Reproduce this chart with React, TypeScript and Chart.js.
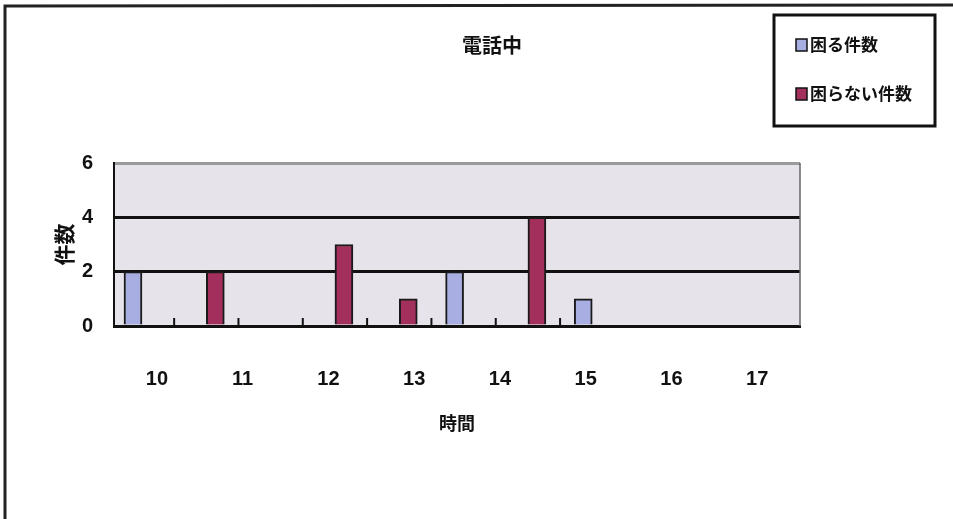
import React, { useEffect, useRef } from "react";
import { Chart, registerables } from "chart.js";

Chart.register(...registerables);

const chartTitle = "電話中";
const xAxisTitle = "時間";
const yAxisTitle = "件数";
const categories = ["10", "11", "12", "13", "14", "15", "16", "17"];
const seriesNames = ["困る件数", "困らない件数"];
const komaruValues = [2, 0, 0, 0, 0, 2, 0, 1];
const komaranaiValues = [0, 2, 0, 3, 1, 0, 4, 0];
const seriesColors = ["#a9aee2", "#a3305c"];
const yMin = 0;
const yMax = 6;
const yStep = 2;

const NUM_FONT = "'Liberation Sans', Arial, sans-serif";
const CJK_FONT = "'Noto Sans CJK JP', 'Noto Sans', sans-serif";

export default function App() {
  const ref = useRef<HTMLCanvasElement | null>(null);

  useEffect(() => {
    if (!ref.current) return;
    const hours = categories.map((c) => Number(c));
    const mk = (vals: number[]) => vals.map((v, i) => ({ x: hours[i], y: v }));

    const decor = {
      id: "decor",
      beforeDraw(chart: any) {
        const { ctx, chartArea: a } = chart;
        ctx.save();
        ctx.fillStyle = "#e6e3ea";
        ctx.fillRect(a.left, a.top, a.right - a.left, a.bottom - a.top);
        ctx.restore();
      },
      afterDatasetsDraw(chart: any) {
        const { ctx, chartArea: a } = chart;
        const xb = chart.scales.xb;
        ctx.save();
        ctx.strokeStyle = "#666";
        ctx.lineWidth = 1.5;
        ctx.beginPath();
        ctx.moveTo(a.right, a.top);
        ctx.lineTo(a.right, a.bottom);
        ctx.stroke();
        ctx.strokeStyle = "#111";
        ctx.lineWidth = 2;
        for (let i = 0; i < hours.length - 1; i++) {
          const px = xb.getPixelForValue((hours[i] + hours[i + 1]) / 2);
          ctx.beginPath();
          ctx.moveTo(px, a.bottom);
          ctx.lineTo(px, a.bottom - 8);
          ctx.stroke();
        }
        ctx.restore();
      },
      afterDraw(chart: any) {
        const { ctx } = chart;
        ctx.save();
        ctx.strokeStyle = "#222";
        ctx.lineWidth = 3;
        ctx.beginPath();
        ctx.moveTo(5, 519);
        ctx.lineTo(5, 6);
        ctx.lineTo(953, 5);
        ctx.stroke();
        ctx.fillStyle = "#111";
        ctx.font = `bold 20px ${CJK_FONT}`;
        ctx.textAlign = "center";
        ctx.textBaseline = "middle";
        ctx.fillText(chartTitle, 492, 45);
        ctx.lineWidth = 3;
        ctx.strokeStyle = "#111";
        ctx.strokeRect(774, 15, 161, 111);
        ctx.font = `bold 17px ${CJK_FONT}`;
        ctx.textAlign = "left";
        const rows = [45, 94];
        chart.data.datasets.forEach((ds: any, i: number) => {
          const y = rows[i];
          ctx.fillStyle = ds.backgroundColor;
          ctx.fillRect(796, y - 6, 11, 12);
          ctx.lineWidth = 1.5;
          ctx.strokeStyle = "#111";
          ctx.strokeRect(796, y - 6, 11, 12);
          ctx.fillStyle = "#111";
          ctx.fillText(ds.label, 810, y);
        });
        ctx.restore();
      },
    };

    const chart = new Chart(ref.current, {
      type: "bar",
      data: {
        labels: categories,
        datasets: [
          {
            label: seriesNames[0],
            data: mk(komaruValues) as any,
            backgroundColor: seriesColors[0],
            borderColor: "#1a1a1a",
            borderWidth: 2,
            xAxisID: "xb",
            yAxisID: "y",
            barThickness: 18,
          },
          {
            label: seriesNames[1],
            data: mk(komaranaiValues) as any,
            backgroundColor: seriesColors[1],
            borderColor: "#1a1a1a",
            borderWidth: 2,
            xAxisID: "xb",
            yAxisID: "y",
            barThickness: 18,
          },
        ],
      },
      options: {
        animation: false,
        responsive: true,
        maintainAspectRatio: false,
        layout: { padding: { left: 0, right: 153, top: 163, bottom: 83 } },
        plugins: {
          legend: { display: false },
          title: { display: false },
          tooltip: { enabled: false },
        },
        scales: {
          xb: {
            type: "linear",
            display: false,
            position: "bottom",
            offset: false,
            grid: { offset: false },
            min: 9.565,
            max: 20.23,
          },
          x: {
            type: "category",
            position: "bottom",
            offset: true,
            grid: { display: false, drawTicks: false },
            border: { display: true, color: "#111", width: 3 },
            ticks: {
              color: "#111",
              padding: 41,
              font: { family: NUM_FONT, size: 20, weight: "bold" },
            },
            title: {
              display: true,
              text: xAxisTitle,
              color: "#111",
              font: { family: CJK_FONT, size: 18, weight: "bold" },
              padding: { top: 0, bottom: 2 },
            },
            afterFit(scale: any) {
              scale.height = 110;
            },
          },
          y: {
            type: "linear",
            position: "left",
            min: yMin,
            max: yMax,
            ticks: {
              stepSize: yStep,
              color: "#111",
              padding: 21,
              font: { family: NUM_FONT, size: 20, weight: "bold" },
            },
            grid: {
              drawTicks: false,
              lineWidth: 3,
              color: (c: any) =>
                c.tick && c.tick.value === yMax
                  ? "#9a9a9a"
                  : c.tick && c.tick.value === yMin
                  ? "rgba(0,0,0,0)"
                  : "#111",
            },
            border: { display: true, color: "#111", width: 2 },
            title: {
              display: true,
              text: yAxisTitle,
              color: "#111",
              font: { family: CJK_FONT, size: 21, weight: "bold" },
              padding: { top: 51, bottom: 0 },
            },
            afterFit(scale: any) {
              scale.width = 114;
            },
          },
        },
      } as any,
      plugins: [decor],
    });
    return () => chart.destroy();
  }, []);

  return (
    <div style={{ position: "fixed", left: 0, top: 0, width: 953, height: 519, background: "#fff" }}>
      <canvas ref={ref} />
    </div>
  );
}
